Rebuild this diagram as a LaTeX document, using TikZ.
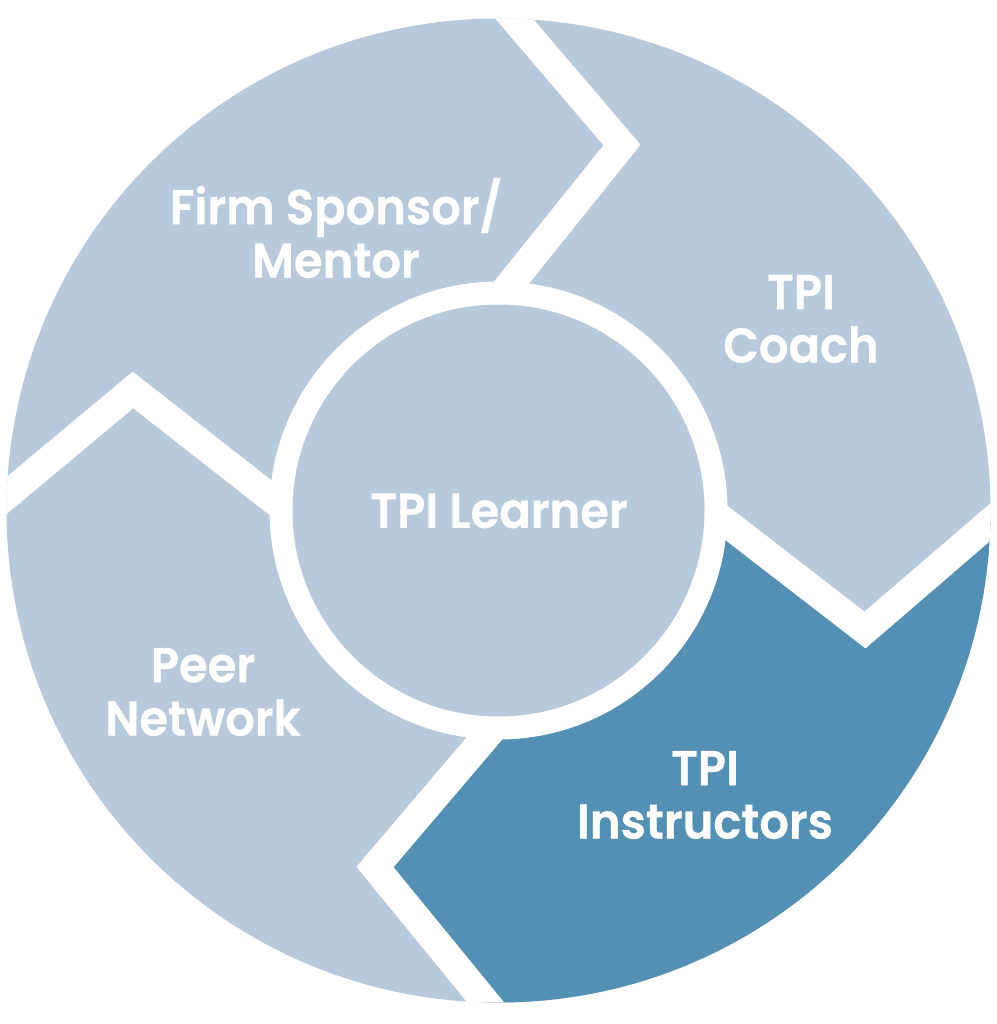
\documentclass[tikz,border=0pt]{standalone}
\usepackage{fontspec}
\newfontfamily\labelfont{Poppins SemiBold}[FakeStretch=0.95,FakeBold=0.6]
\usetikzlibrary{backgrounds}
\usepackage{xcolor}
\definecolor{paleblue}{HTML}{B8C9DB}
\definecolor{deepblue}{HTML}{5490B3}

\begin{document}
\begin{tikzpicture}[x=0.01cm,y=-0.01cm,
    gap/.style={white,line width=0.285cm,line join=miter},
    label/.style={text=white,align=center,font=\labelfont\fontsize{13.9}{15.2}\selectfont}]
  \useasboundingbox (0,0) rectangle (997,1024);
  \coordinate (o) at (498.5,510.5);
  \fill[paleblue] (o) circle[radius=492];
  \begin{scope}
    \clip (o) circle[radius=492];
    % the instructors' segment
    \fill[deepblue] (o) -- (711,511) -- (865,630) -- (1002,512) -- (1100,512)
      -- (1100,1100) -- (496,1100) -- (496,1015) -- (375,867) -- (495,726) -- cycle;
    % white chevrons between the segments
    \draw[gap] (500,297) -- (622,145) -- (505,8);
    \draw[gap] (711,511) -- (865,630) -- (1002,512);
    \draw[gap] (495,726) -- (375,867) -- (496,1015);
    \draw[gap] (285,509) -- (133,390) -- (-6,506);
  \end{scope}
  \fill[white] (o) circle[radius=229];
  \fill[paleblue] (o) circle[radius=206];

  \node[label] (learner) at (499,511) {TPI Learner};
  \node[label] (sponsor) at (336,228) {Firm Sponsor/\\Mentor};
  \node[label] (coach) at (801,319) {TPI\\Coach};
  \node[label] (peers) at (203,692) {Peer\\Network};
  \node[label] (instructors) at (705,795) {TPI\\Instructors};
\end{tikzpicture}
\end{document}
